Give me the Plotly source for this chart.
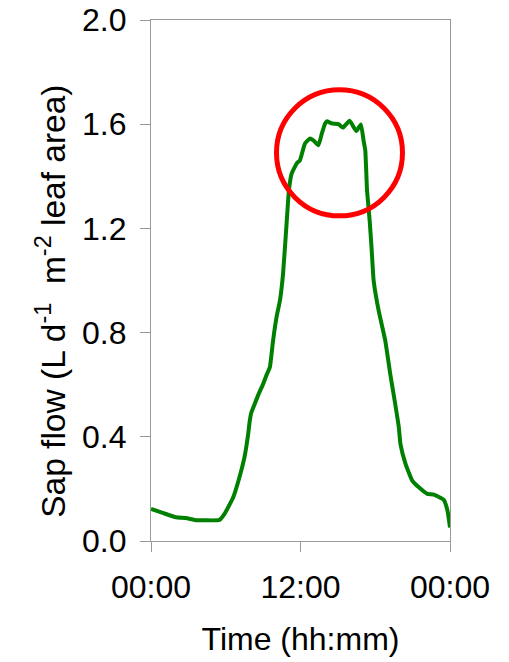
import plotly.graph_objects as go

# Time of day (hours since midnight) and sap flow (L d-1 m-2 leaf area)
hours = [0.0, 0.94, 2.0, 2.8, 3.5, 5.5, 5.9, 6.6, 7.1, 7.5, 7.8, 7.93, 8.06, 8.33,
         8.6, 9.0, 9.3, 9.54, 9.8, 10.08, 10.35, 10.6, 10.9, 11.07, 11.29, 11.69,
         11.96, 12.36, 12.77, 13.03, 13.44, 13.71, 13.98, 14.11, 14.52, 15.05,
         15.4, 15.94, 16.48, 16.85, 17.06, 17.2, 17.34, 17.55, 17.7, 17.87, 18.27,
         18.8, 19.2, 19.6, 19.89, 20.02, 20.43, 20.97, 21.5, 22.18, 22.7, 23.5,
         23.8, 24.0]
sap_flow = [0.123, 0.108, 0.091, 0.088, 0.081, 0.081, 0.104, 0.168, 0.245, 0.321,
            0.411, 0.462, 0.494, 0.527, 0.56, 0.603, 0.64, 0.667, 0.77, 0.86,
            0.923, 1.026, 1.231, 1.346, 1.41, 1.449, 1.462, 1.526, 1.545, 1.538,
            1.519, 1.564, 1.603, 1.611, 1.603, 1.6, 1.587, 1.613, 1.574, 1.599,
            1.538, 1.5, 1.346, 1.231, 1.128, 1.0, 0.885, 0.77, 0.642, 0.527,
            0.437, 0.373, 0.296, 0.232, 0.206, 0.181, 0.178, 0.158, 0.116, 0.052]

x_tick_vals = [0, 12, 24]
x_tick_text = ["00:00", "12:00", "00:00"]
y_tick_vals = [0.0, 0.4, 0.8, 1.2, 1.6, 2.0]
y_tick_text = ["0.0", "0.4", "0.8", "1.2", "1.6", "2.0"]

# Highlight around the midday plateau
peak_center = (15.13, 1.49)

FONT = "Liberation Sans, Arial, sans-serif"
AXIS_GREY = "#999999"

fig = go.Figure()
fig.add_trace(go.Scatter(
    x=hours, y=sap_flow, mode="lines",
    line=dict(color="#008000", width=4, shape="spline", smoothing=0.4),
    showlegend=False, hoverinfo="skip",
))

fig.add_shape(
    type="circle", xref="x", yref="y",
    xsizemode="pixel", ysizemode="pixel",
    xanchor=peak_center[0], yanchor=peak_center[1],
    x0=-63, x1=63, y0=-63, y1=63,
    line=dict(color="#ff0000", width=5),
)

axis_common = dict(
    showgrid=False, zeroline=False, automargin=False,
    showline=True, linecolor=AXIS_GREY, linewidth=1.3, mirror=True,
    ticks="outside", ticklen=10, tickcolor=AXIS_GREY, tickwidth=1.3,
    ticklabelstandoff=7,
    tickfont=dict(family=FONT, size=32, color="#000000"),
)

fig.update_xaxes(
    range=[0, 24], tickvals=x_tick_vals, ticktext=x_tick_text,
    title=dict(text="Time (hh:mm)", font=dict(family=FONT, size=32, color="#000000"),
               standoff=24),
    **axis_common,
)
fig.update_yaxes(
    range=[0, 2.0], tickvals=y_tick_vals, ticktext=y_tick_text,
    **axis_common,
)

fig.add_annotation(
    text="Sap flow (L d<sup>-1</sup>\u00a0\u00a0m<sup>-2</sup> leaf area)",
    xref="paper", yref="paper", x=-0.335, y=0.4607,
    xanchor="center", yanchor="middle", textangle=-90, showarrow=False,
    font=dict(family=FONT, size=33.5, color="#000000"),
)

fig.update_layout(
    width=509, height=662,
    margin=dict(l=151, r=59, t=20, b=121),
    paper_bgcolor="#ffffff", plot_bgcolor="#ffffff",
    font=dict(family=FONT, size=32, color="#000000"),
)

fig.write_html("out.html")
